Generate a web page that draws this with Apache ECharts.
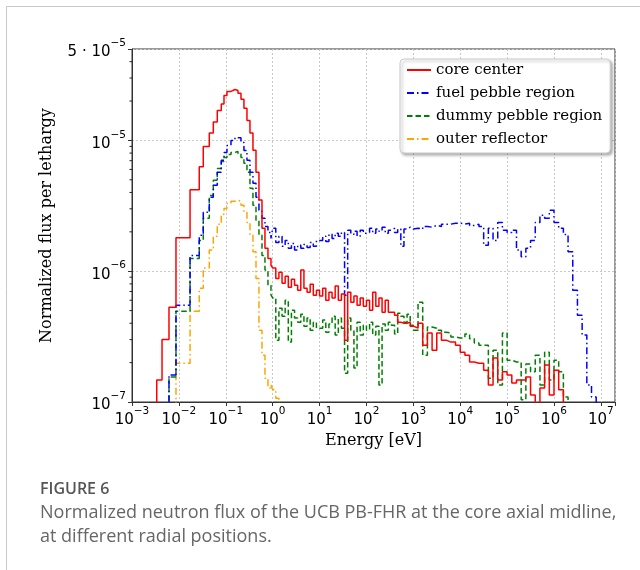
<!DOCTYPE html>
<html><head><meta charset="utf-8">
<script src="https://cdn.jsdelivr.net/npm/echarts@6/dist/echarts.min.js"></script>
<style>html,body{margin:0;padding:0;background:#fff}#c{width:640px;height:570px}</style>
</head><body><div id="c"></div>
<script>
// Energy bin edges [eV] (left edges of histogram bins, last entry = final right edge)
const energyEdges = [
  2.42e-3, 3.37e-3, 4.37e-3, 6.15e-3, 8.67e-3, 1.73e-2, 2.72e-2, 3.31e-2, 4.45e-2, 5.42e-2,
  6.59e-2, 8.02e-2, 9.16e-2, 0.106, 0.129, 0.157, 0.182, 0.211, 0.244, 0.283,
  0.328, 0.380, 0.441, 0.510, 0.592, 0.685, 0.794, 0.920,
  1, 1.166, 1.359, 1.585, 1.848, 2.154, 2.512, 2.929, 3.415, 3.981, 4.642, 5.412, 6.310, 7.356, 8.577,
  10, 11.66, 13.59, 15.85, 18.48, 21.54, 25.12, 29.29, 34.15, 39.81, 46.42, 54.12, 63.10, 73.56, 85.77,
  100, 116.6, 135.9, 158.5, 184.8, 215.4, 251.2, 292.9, 341.5, 398.1, 464.2, 541.2, 631.0, 735.6, 857.7,
  1e3, 1259, 1585, 1995, 2512, 3162, 3981, 5012, 6310, 7943,
  1e4, 12590, 15850, 19950, 25120, 31620, 39810, 50120, 63100, 79430,
  1e5, 125900, 158500, 199500, 251200, 316200, 398100, 501200, 631000, 794300,
  1e6, 1.259e6, 1.585e6, 1.995e6, 2.512e6, 3.162e6, 3.981e6, 5.012e6, 6.31e6, 7.943e6,
  1e7
];
const coreCenter = [
  5e-8, 1.47e-7, 3.0e-7, 5.3e-7, 1.8e-6, 4.2e-6, 6.3e-6, 9.0e-6, 1.14e-5, 1.38e-5,
  1.69e-5, 1.90e-5, 2.21e-5, 2.37e-5, 2.45e-5, 2.41e-5, 2.29e-5, 2.06e-5, 1.76e-5, 1.42e-5,
  1.14e-5, 8.4e-6, 5.7e-6, 3.5e-6, 2.13e-6, 1.50e-6, 1.25e-6, 1.11e-6,
  1.06e-6, 8.8e-7, 9.8e-7, 8.1e-7, 9.15e-7, 7.55e-7, 8.67e-7, 7.82e-7, 7.16e-7, 1.02e-6, 7.4e-7, 6.9e-7, 7.95e-7, 6.56e-7, 7.16e-7,
  6.45e-7, 7.4e-7, 6.0e-7, 6.9e-7, 6.25e-7, 7.7e-7, 6.0e-7, 6.7e-7, 2.97e-7, 6.9e-7, 5.8e-7, 6.45e-7, 5.5e-7, 6.25e-7, 5.4e-7,
  6.0e-7, 5.04e-7, 6.9e-7, 5.4e-7, 6.25e-7, 4.85e-7, 6.0e-7, 4.85e-7, 4.85e-7, 4.61e-7, 4.08e-7, 4.0e-7, 4.0e-7, 4.08e-7, 3.8e-7,
  3.67e-7, 4.0e-7, 2.72e-7, 3.37e-7, 2.49e-7, 3.37e-7, 2.97e-7, 2.87e-7, 2.87e-7, 2.72e-7,
  2.40e-7, 2.28e-7, 2.02e-7, 1.98e-7, 1.98e-7, 1.75e-7, 1.35e-7, 2.17e-7, 1.47e-7, 1.70e-7,
  1.61e-7, 1.40e-7, 1.47e-7, 1.47e-7, 1.55e-7, 1.13e-7, 9.5e-8, 1.28e-7, 1.92e-7, 1.13e-7,
  1.75e-7, 1.24e-7, 5e-8
];
const fuelPebbleRegion = [
  5e-8, 5e-8, 5e-8, 1.61e-7, 5.5e-7, 1.32e-6, 1.88e-6, 2.82e-6, 3.67e-6, 4.54e-6,
  5.7e-6, 7.04e-6, 8.1e-6, 9.16e-6, 1.0e-5, 1.05e-5, 1.05e-5, 9.65e-6, 8.39e-6, 7.04e-6,
  5.7e-6, 4.7e-6, 3.67e-6, 2.92e-6, 2.54e-6, 2.20e-6, 1.98e-6, 1.78e-6,
  2.13e-6, 1.66e-6, 1.85e-6, 1.55e-6, 1.72e-6, 1.50e-6, 1.63e-6, 1.45e-6, 1.58e-6, 1.50e-6, 1.60e-6, 1.52e-6, 1.66e-6, 1.55e-6, 1.72e-6,
  1.72e-6, 1.85e-6, 1.69e-6, 1.92e-6, 1.78e-6, 1.95e-6, 1.85e-6, 1.98e-6, 6.56e-7, 2.06e-6, 1.92e-6, 2.02e-6, 1.85e-6, 2.06e-6, 1.95e-6,
  1.98e-6, 2.13e-6, 1.95e-6, 2.10e-6, 2.02e-6, 2.17e-6, 1.95e-6, 2.06e-6, 2.13e-6, 1.98e-6, 2.10e-6, 1.55e-6, 2.10e-6, 2.17e-6, 2.10e-6,
  2.13e-6, 2.10e-6, 2.20e-6, 2.17e-6, 2.24e-6, 2.20e-6, 2.29e-6, 2.29e-6, 2.33e-6, 2.33e-6,
  2.29e-6, 2.33e-6, 2.24e-6, 2.29e-6, 2.20e-6, 1.58e-6, 2.13e-6, 1.72e-6, 2.36e-6, 2.06e-6,
  1.98e-6, 2.06e-6, 1.45e-6, 1.29e-6, 1.50e-6, 1.72e-6, 2.36e-6, 2.68e-6, 2.54e-6, 2.92e-6,
  2.36e-6, 2.13e-6, 1.91e-6, 1.41e-6, 7.16e-7, 4.61e-7, 3.25e-7, 1.35e-7, 1.09e-7, 5e-8
];
const dummyPebbleRegion = [
  5e-8, 5e-8, 5e-8, 1.55e-7, 4.95e-7, 1.25e-6, 1.72e-6, 2.54e-6, 3.80e-6, 4.95e-6,
  6.1e-6, 6.9e-6, 7.4e-6, 7.8e-6, 8.1e-6, 8.24e-6, 7.95e-6, 7.4e-6, 6.7e-6, 5.7e-6,
  4.3e-6, 3.19e-6, 2.45e-6, 1.88e-6, 1.32e-6, 1.02e-6, 7.8e-7, 6.6e-7,
  6.25e-7, 2.97e-7, 5.2e-7, 4.53e-7, 6.0e-7, 2.87e-7, 5.04e-7, 4.38e-7, 4.08e-7, 4.69e-7, 3.80e-7, 4.38e-7, 3.54e-7, 4.08e-7, 3.67e-7,
  3.67e-7, 4.23e-7, 3.41e-7, 3.94e-7, 4.53e-7, 3.25e-7, 4.38e-7, 3.67e-7, 1.66e-7, 4.38e-7, 3.54e-7, 1.82e-7, 4.08e-7, 3.25e-7, 3.87e-7,
  3.54e-7, 4.08e-7, 3.25e-7, 3.80e-7, 1.35e-7, 3.94e-7, 3.54e-7, 4.08e-7, 3.87e-7, 3.31e-7, 4.77e-7, 4.53e-7, 4.08e-7, 4.69e-7, 3.87e-7,
  3.54e-7, 5.8e-7, 2.28e-7, 3.74e-7, 3.67e-7, 3.54e-7, 3.41e-7, 3.37e-7, 3.14e-7, 3.09e-7,
  3.09e-7, 3.31e-7, 3.04e-7, 2.82e-7, 2.72e-7, 2.72e-7, 1.52e-7, 2.49e-7, 1.35e-7, 3.37e-7,
  2.09e-7, 2.02e-7, 2.02e-7, 1.04e-7, 1.95e-7, 1.70e-7, 2.28e-7, 1.35e-7, 2.40e-7, 1.47e-7,
  2.09e-7, 1.70e-7, 1.09e-7, 5e-8
];
const outerReflector = [
  5e-8, 5e-8, 5e-8, 5e-8, 1.98e-7, 4.95e-7, 7.4e-7, 1.06e-6, 1.45e-6, 1.85e-6,
  2.29e-6, 2.73e-6, 3.02e-6, 3.30e-6, 3.43e-6, 3.48e-6, 3.43e-6, 3.19e-6, 2.82e-6, 2.36e-6,
  1.91e-6, 1.41e-6, 8.8e-7, 3.54e-7, 2.28e-7, 1.52e-7, 1.28e-7, 1.35e-7,
  1.24e-7, 1.07e-7, 5e-8
];
const seriesNames = ['core center', 'fuel pebble region', 'dummy pebble region', 'outer reflector'];
const xTickValues = [1e-3, 1e-2, 1e-1, 1e0, 1e1, 1e2, 1e3, 1e4, 1e5, 1e6, 1e7];
const yTickValues = [1e-7, 1e-6, 1e-5, 5e-5];
const yMinorTicks = [2e-7, 3e-7, 4e-7, 5e-7, 6e-7, 7e-7, 8e-7, 9e-7,
  2e-6, 3e-6, 4e-6, 5e-6, 6e-6, 7e-6, 8e-6, 9e-6, 2e-5, 3e-5, 4e-5];
const xMax = 2e7;

function toSteps(vals) {
  const d = vals.map((v, i) => [energyEdges[i], v]);
  d.push([energyEdges[vals.length], vals[vals.length - 1]]);
  return d;
}
function sciLabel(v) {
  const e = Math.floor(Math.log10(v) + 1e-9);
  const m = Math.round(v / Math.pow(10, e) * 100) / 100;
  const ex = (e < 0 ? '\u2212' : '') + Math.abs(e);
  if (m === 1) return '{b|10}{s|' + ex + '}';
  return '{b|' + m + ' \u00B7 10}{s|' + ex + '}';
}
const rich = {
  b: { fontFamily: 'DejaVu Sans', fontSize: 15, color: '#000', lineHeight: 22, verticalAlign: 'bottom' },
  s: { fontFamily: 'DejaVu Sans', fontSize: 10.5, color: '#000', lineHeight: 12, verticalAlign: 'top' }
};
const chart = echarts.init(document.getElementById('c'), null, { renderer: 'canvas' });
const styles = [
  { color: '#ff0000', type: 'solid' },
  { color: '#0000ff', type: [7, 3, 1.5, 3] },
  { color: '#008000', type: [5.5, 3] },
  { color: '#ffa500', type: [7, 3, 1.5, 3] }
];
const allData = [coreCenter, fuelPebbleRegion, dummyPebbleRegion, outerReflector];
const lineSeries = allData.map((vals, k) => ({
  name: seriesNames[k], type: 'line', step: 'end', symbol: 'none', showSymbol: false,
  data: toSteps(vals), clip: true, z: 10 - k,
  lineStyle: { color: styles[k].color, type: styles[k].type, width: 1.5 },
  itemStyle: { color: styles[k].color }
}));
lineSeries.push({
  type: 'custom', silent: true, clip: false, z: 20,
  data: yMinorTicks.map(v => [xTickValues[0], v]),
  renderItem: function (params, api) {
    const p = api.coord([api.value(0), api.value(1)]);
    return { type: 'line', shape: { x1: p[0] - 2.5, y1: p[1], x2: p[0], y2: p[1] },
      style: { stroke: '#222', lineWidth: 1 } };
  }
});
chart.setOption({
  animation: false,
  backgroundColor: '#fff',
  grid: { left: 132, right: 25, top: 49, bottom: 168, show: true, borderColor: '#333', borderWidth: 1, backgroundColor: 'transparent' },
  legend: {
    data: seriesNames, orient: 'vertical', left: 400, top: 59,
    padding: [3, 8, 6, 6], itemGap: 7, itemWidth: 24, itemHeight: 16,
    backgroundColor: '#fff', borderColor: '#cccccc', borderWidth: 1, borderRadius: 4,
    shadowBlur: 3, shadowColor: 'rgba(0,0,0,0.3)', shadowOffsetX: 2, shadowOffsetY: 2,
    itemStyle: { opacity: 0 },
    textStyle: { fontFamily: 'DejaVu Serif', fontSize: 15, color: '#000', lineHeight: 16 },
    selectedMode: false
  },
  xAxis: {
    type: 'log', logBase: 10, min: xTickValues[0], max: xMax, interval: 1,
    name: 'Energy [eV]', nameLocation: 'middle', nameGap: 27,
    nameTextStyle: { fontFamily: 'DejaVu Serif', fontSize: 16, color: '#000' },
    axisLine: { show: true, lineStyle: { color: '#333', width: 1 } },
    axisTick: { show: true, length: 4, lineStyle: { color: '#333' } },
    minorTick: { show: false },
    axisLabel: { margin: 4, rich: rich, formatter: function (v) {
      const e = Math.log10(v);
      if (Math.abs(e - Math.round(e)) > 1e-6 || v > xTickValues[xTickValues.length - 1] * 1.01) return '';
      return sciLabel(v);
    } },
    splitLine: { show: true, lineStyle: { color: '#c8c8c8', type: [2, 2], width: 1 } }
  },
  yAxis: {
    type: 'log', logBase: 10, min: yTickValues[0], max: yTickValues[yTickValues.length - 1], interval: 1,
    name: 'Normalized flux per lethargy', nameLocation: 'middle', nameGap: 77,
    nameTextStyle: { fontFamily: 'DejaVu Serif', fontSize: 16, color: '#000' },
    axisLine: { show: true, lineStyle: { color: '#333', width: 1 } },
    axisTick: { show: true, length: 4, lineStyle: { color: '#333' } },
    axisLabel: { margin: 6, rich: rich, formatter: function (v) { return sciLabel(v); } },
    splitLine: { show: true, lineStyle: { color: '#c8c8c8', type: [2, 2], width: 1 } }
  },
  graphic: [
    { type: 'rect', silent: true, shape: { x: 6.5, y: 6.5, width: 700, height: 700 },
      style: { fill: 'none', stroke: '#c8c8c8', lineWidth: 1 } },
    { type: 'text', silent: true, style: { x: 40, y: 481, text: 'FIGURE 6', fill: '#555', font: '600 16px "Open Sans"', textVerticalAlign: 'top' } },
    { type: 'text', silent: true, style: { x: 40, y: 504, text: 'Normalized neutron flux of the UCB PB-FHR at the core axial midline,', fill: '#666', font: '18px "Open Sans"', textVerticalAlign: 'top' } },
    { type: 'text', silent: true, style: { x: 40, y: 528, text: 'at different radial positions.', fill: '#666', font: '18px "Open Sans"', textVerticalAlign: 'top' } }
  ],
  series: lineSeries
});
</script></body></html>
